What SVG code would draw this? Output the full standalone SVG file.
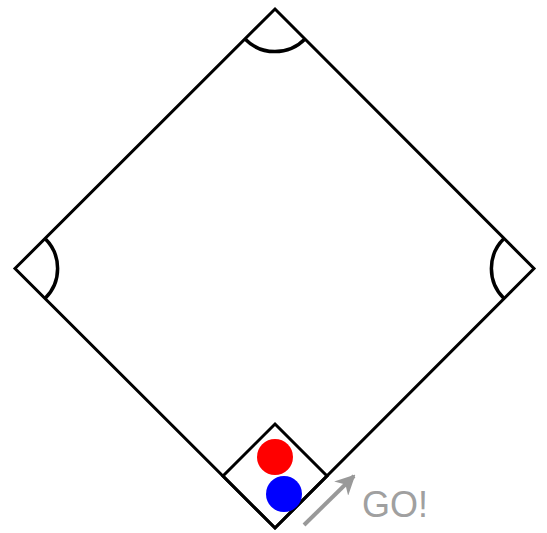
<svg xmlns="http://www.w3.org/2000/svg" width="547" height="533" viewBox="0 0 547 533">
<style>
.ln{fill:none;stroke:#000;stroke-width:3;stroke-linejoin:miter}
.arc{fill:none;stroke:#000;stroke-width:3.5}
</style>
<defs>
<marker id="ah" viewBox="0 0 10 10" refX="9" refY="5" markerWidth="5" markerHeight="5" orient="auto" markerUnits="strokeWidth">
<path d="M0,0 L10,5 L0,10 L3,5 Z" fill="#999"/>
</marker>
</defs>
<rect width="547" height="533" fill="#fff"/>
<g id="field">
<path class="ln" d="M275,9 L534,268.5 L275,528 L15,268.5 Z"/>
<path class="arc" d="M245,39 A42,42 0 0 0 305,39"/>
<path class="arc" d="M45,238.5 A42,42 0 0 1 45,298.5"/>
<path class="arc" d="M504,238.5 A42,42 0 0 0 504,298.5"/>
</g>
<g id="home">
<path class="ln" d="M275,424 L327,476 L275,528 L223,476 Z"/>
</g>
<g id="red"><circle cx="275" cy="457" r="18" fill="#f00"/></g>
<g id="blue"><circle cx="284" cy="494" r="18" fill="#00f"/></g>
<g id="connectors">
<line x1="304" y1="525" x2="354" y2="476" stroke="#999" stroke-width="4" marker-end="url(#ah)"/>
</g>
<text x="362" y="517" font-family="Liberation Sans, Arial, sans-serif" font-size="36" fill="#a0a0a0">GO!</text>
</svg>
